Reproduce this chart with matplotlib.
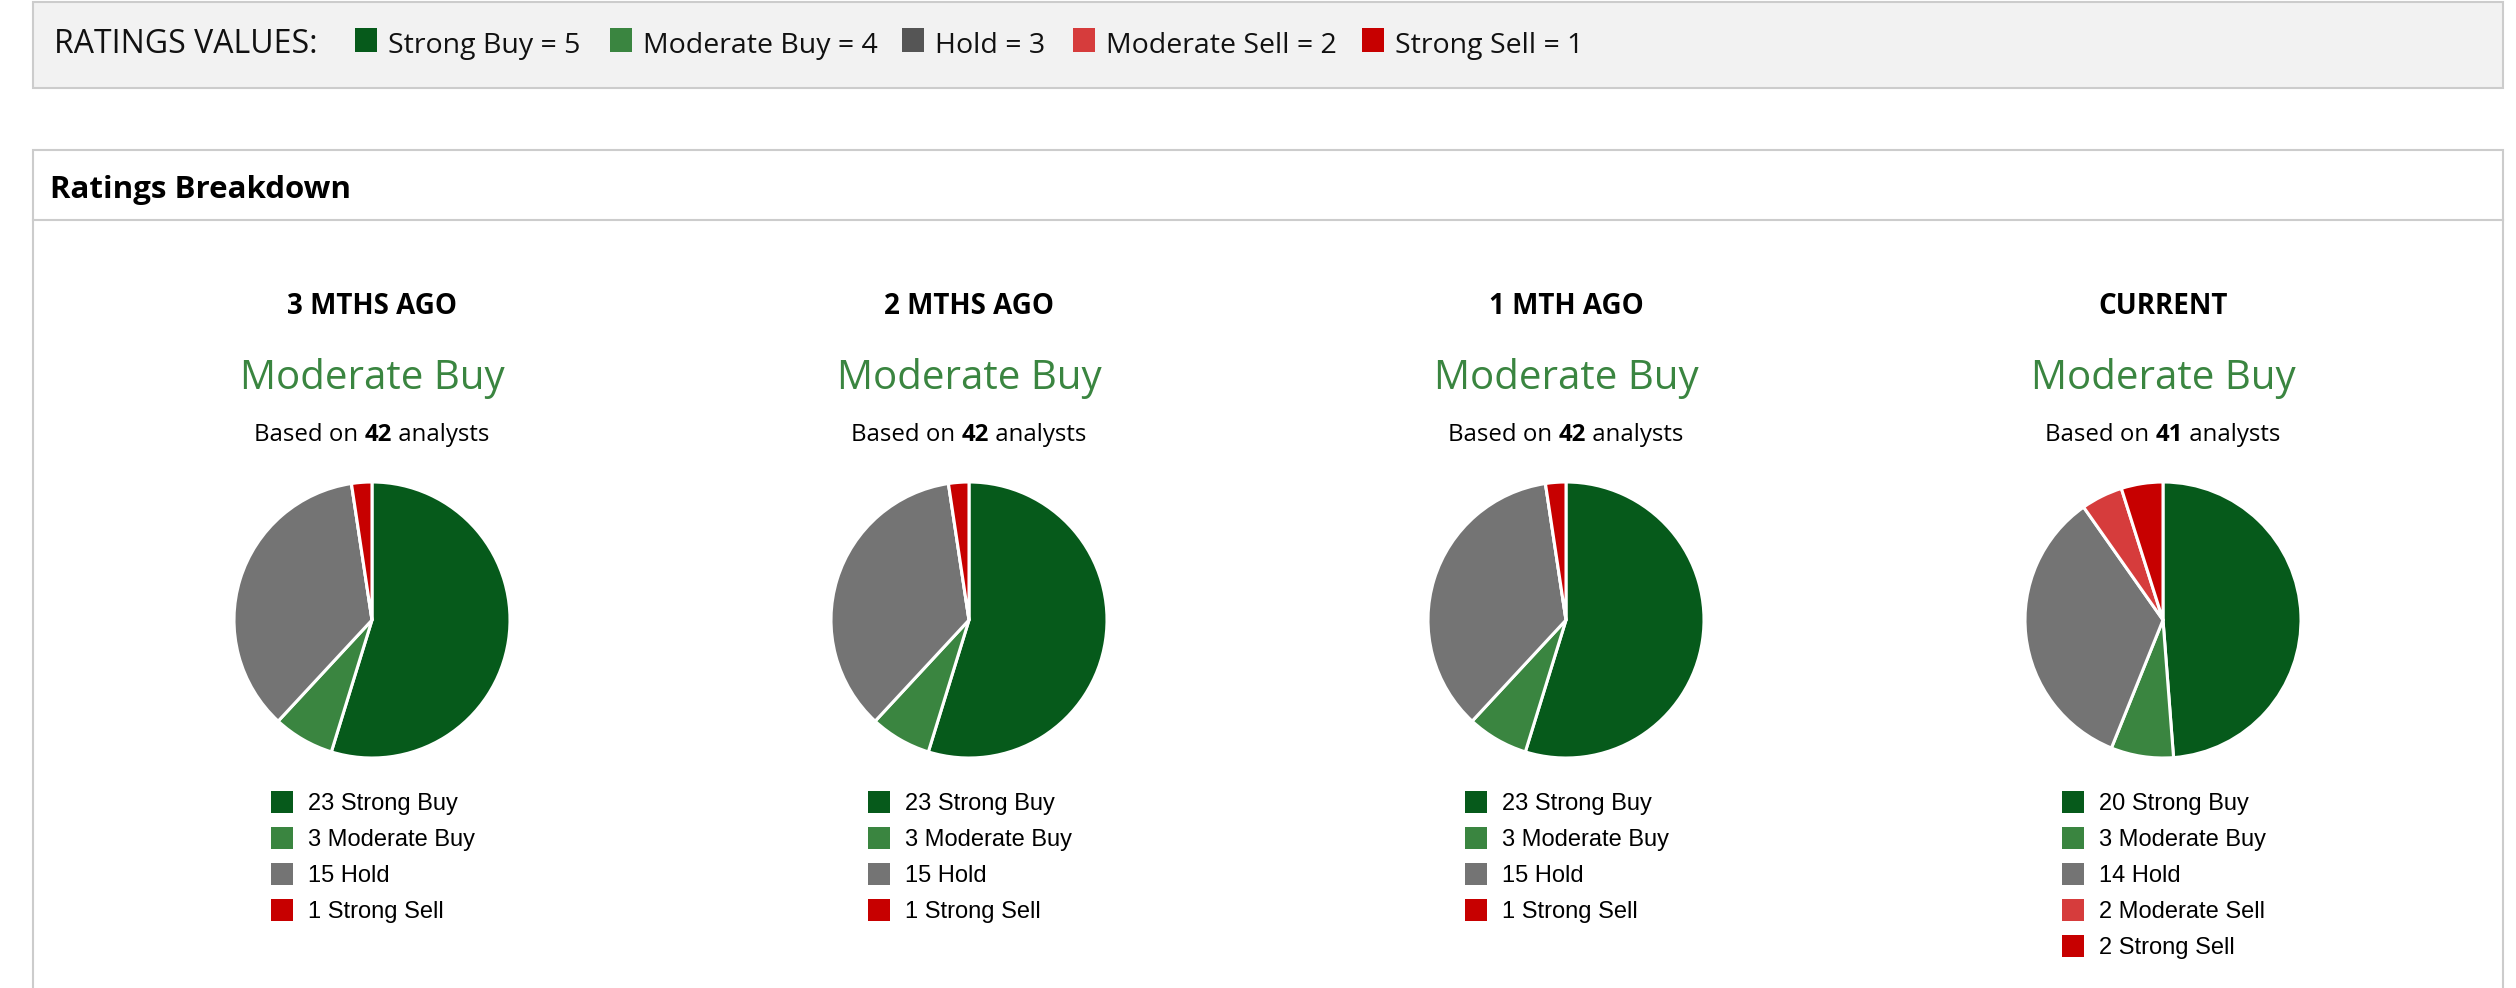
"""Analyst ratings breakdown: four pie charts with a ratings-values header."""

import matplotlib

matplotlib.use("Agg")
import matplotlib.pyplot as plt
from matplotlib.patches import Rectangle

# --- data -----------------------------------------------------------------
periods = ["3 MTHS AGO", "2 MTHS AGO", "1 MTH AGO", "CURRENT"]
consensus = ["Moderate Buy", "Moderate Buy", "Moderate Buy", "Moderate Buy"]
analysts = [42, 42, 42, 41]

rating_names = ["Strong Buy", "Moderate Buy", "Hold", "Moderate Sell", "Strong Sell"]
rating_values = [5, 4, 3, 2, 1]
strong_buy = [23, 23, 23, 20]
moderate_buy = [3, 3, 3, 3]
hold = [15, 15, 15, 14]
moderate_sell = [0, 0, 0, 2]
strong_sell = [1, 1, 1, 2]

# --- style ----------------------------------------------------------------
pie_colors = ["#065a1b", "#3a8540", "#747474", "#d63c3c", "#c70000"]
key_colors = ["#065a1b", "#3a8540", "#555555", "#d63c3c", "#c70000"]
green_txt = "#3a8540"
border = "#cccccc"
W, H = 2516, 988
OS = "Open Sans"
LS = "Liberation Sans"

fig = plt.figure(figsize=(W / 100, H / 100), dpi=100)
bg = fig.add_axes([0, 0, 1, 1])
bg.set_xlim(0, W)
bg.set_ylim(H, 0)
bg.axis("off")

# header panel with the ratings key
bg.add_patch(Rectangle((33, 2), 2470, 86, facecolor="#f2f2f2", edgecolor=border, lw=1.5))
bg.text(54, 53, "RATINGS VALUES:", fontsize=23, family=OS, va="baseline", color="#111111")
key_x = [355, 610, 902, 1073, 1362]
for x, name, val, c in zip(key_x, rating_names, rating_values, key_colors):
    bg.add_patch(Rectangle((x, 28), 22, 24, facecolor=c, edgecolor="none"))
    bg.text(x + 33, 53, f"{name} = {val}", fontsize=20.5, family=OS, va="baseline", color="#111111")

# breakdown panel
bg.add_patch(Rectangle((33, 150), 2470, 900, facecolor="white", edgecolor=border, lw=1.5))
bg.plot([33, 2503], [220, 220], color=border, lw=1.5)
bg.text(50, 198, "Ratings Breakdown", fontsize=22.5, family=OS, weight="bold", va="baseline")

fig.canvas.draw()
renderer = fig.canvas.get_renderer()


def text_width(s, **kw):
    t = bg.text(0, 0, s, **kw)
    w = t.get_window_extent(renderer).width
    t.remove()
    return w


centers = [372, 969, 1566, 2163]
radius = 138
pie_cy = 620
series = list(zip(strong_buy, moderate_buy, hold, moderate_sell, strong_sell))

for i, cx in enumerate(centers):
    bg.text(cx, 314, periods[i], fontsize=20, family=OS, weight="bold", ha="center", va="baseline")
    bg.text(cx, 389, consensus[i], fontsize=29, family=OS, color=green_txt, ha="center", va="baseline")

    # "Based on **N** analysts"
    parts = [("Based on ", "normal"), (str(analysts[i]), "bold"), (" analysts", "normal")]
    widths = [text_width(s, fontsize=17.3, family=OS, weight=wt) for s, wt in parts]
    x = cx - sum(widths) / 2
    for (s, wt), w in zip(parts, widths):
        bg.text(x, 441, s, fontsize=17.3, family=OS, weight=wt, va="baseline")
        x += w

    # pie
    side = 2 * radius
    pax = fig.add_axes([(cx - radius) / W, 1 - (pie_cy + radius) / H, side / W, side / H])
    vals = series[i]
    pax.pie(vals, colors=pie_colors, startangle=90, counterclock=False, radius=1,
            wedgeprops=dict(edgecolor="white", linewidth=2.2, joinstyle="round"))
    pax.set_xlim(-1, 1)
    pax.set_ylim(-1, 1)
    pax.set_aspect("equal")
    pax.axis("off")
    for p in pax.patches:
        p.set_clip_on(False)

    # legend under the pie
    row = 0
    for name, v, c in zip(rating_names, vals, pie_colors):
        if v == 0:
            continue
        y = 802 + 36 * row
        bg.add_patch(Rectangle((cx - 101, y - 11), 22, 22, facecolor=c, edgecolor="none"))
        bg.text(cx - 64, y + 8, f"{v} {name}", fontsize=17, family=LS, va="baseline")
        row += 1

fig.savefig("out.png", dpi=100)
